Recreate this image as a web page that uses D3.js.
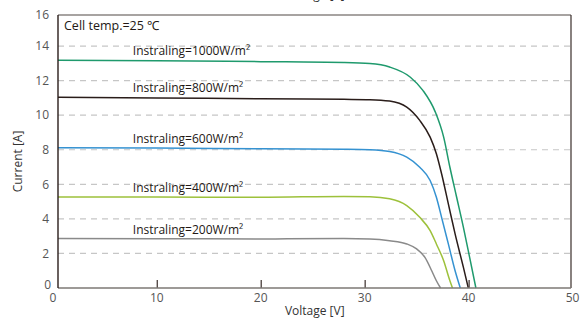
<!DOCTYPE html>
<html>
<head>
<meta charset="utf-8">
<script src="https://cdn.jsdelivr.net/npm/d3@7"></script>
<style>
  body { margin: 0; background: #fff; }
  svg { display: block; font-family: "Open Sans", "Lato", sans-serif; }
</style>
</head>
<body>
<svg width="581" height="318"></svg>
<script>
// I-V curves, [voltage V, current A]
var curve1000 = [[0.5,13.18],[10,13.15],[20,13.1],[28,13.05],[30.5,12.99],[32.4,12.79],[34.4,12.2],[35.6,11.44],[36.8,10.18],[37.6,8.73],[38.2,6.99],[38.85,5.25],[39.5,3.51],[40.1,1.77],[40.7,0]];
var curve800  = [[0.5,11.04],[10,11.0],[20,10.95],[28,10.92],[30.5,10.9],[32.4,10.82],[34.05,10.47],[35.3,9.7],[36.3,8.73],[36.9,7.77],[37.4,6.61],[38.05,4.87],[38.7,3.13],[39.5,1.19],[39.97,0]];
var curve600  = [[0.5,8.12],[10,8.1],[20,8.06],[28,8.03],[30.5,8.0],[32.4,7.9],[34.05,7.57],[35.3,6.99],[36.3,6.22],[36.9,5.25],[37.4,4.09],[38.05,2.55],[38.7,1.0],[39.2,0]];
var curve400  = [[0.5,5.27],[10,5.26],[20,5.25],[28,5.3],[30.5,5.28],[32.4,5.16],[34.05,4.77],[35.3,4.09],[36.3,3.32],[36.9,2.55],[37.6,1.58],[38.2,0.42],[38.45,0]];
var curve200  = [[0.5,2.86],[10,2.85],[20,2.84],[28,2.86],[30.5,2.84],[32.4,2.74],[34.05,2.55],[35.0,2.26],[35.8,1.77],[36.45,1.0],[36.9,0.42],[37.3,0]];

var seriesLabels = ["Instraling=1000W/m²", "Instraling=800W/m²", "Instraling=600W/m²", "Instraling=400W/m²", "Instraling=200W/m²"];
var seriesColors = ["#1f9a6d", "#2a1d1a", "#3592d1", "#9dc13b", "#8a8a8a"];
var seriesData   = [curve1000, curve800, curve600, curve400, curve200];

var xTicks = [10, 20, 30, 40, 50];
var yTicks = [2, 4, 6, 8, 10, 12, 14];
var yTickLabels = [0, 2, 4, 6, 8, 10, 12, 14, 16];

var svg = d3.select("svg"),
    margin = {top: 15, right: 10, bottom: 30, left: 58},
    width  = +svg.attr("width") - margin.left - margin.right,
    height = +svg.attr("height") - margin.top - margin.bottom;

var x = d3.scaleLinear().domain([0.5, 49.85]).range([0, width]);
var y = d3.scaleLinear().domain([0, 15.8]).range([height, 0]);

var g = svg.append("g")
  .attr("transform", "translate(" + margin.left + "," + margin.top + ")");

// cropped label from the chart above
svg.append("text")
  .attr("x", margin.left + x(25.2))
  .attr("y", -1)
  .attr("text-anchor", "middle")
  .attr("font-size", 12)
  .attr("fill", "#333")
  .text("Voltage [V]");

// grid
g.selectAll(".grid")
  .data(yTicks)
  .enter().append("line")
  .attr("x1", 0).attr("x2", width)
  .attr("y1", function(d) { return y(d); })
  .attr("y2", function(d) { return y(d); })
  .attr("stroke", "#c6c6c6")
  .attr("stroke-width", 1.2)
  .attr("stroke-dasharray", "6,5");

// frame
g.append("line").attr("x1", 0).attr("x2", width).attr("y1", 0).attr("y2", 0)
  .attr("stroke", "#8a8582").attr("stroke-width", 1.6);
g.append("line").attr("x1", width).attr("x2", width).attr("y1", 0).attr("y2", height)
  .attr("stroke", "#3a2e2b").attr("stroke-width", 1.2);

// curves
var line = d3.line()
  .x(function(d) { return x(d[0]); })
  .y(function(d) { return y(d[1]); })
  .curve(d3.curveMonotoneX);

seriesData.forEach(function(s, i) {
  g.append("path")
    .datum(s)
    .attr("fill", "none")
    .attr("stroke", seriesColors[i])
    .attr("stroke-width", 1.5)
    .attr("d", line);

  g.append("text")
    .attr("x", x(7.7))
    .attr("y", y(s[0][1]) - 5)
    .attr("font-size", 12)
    .attr("fill", "#231815")
    .text(seriesLabels[i]);
});

// axes
var xAxis = d3.axisTop(x).tickValues(xTicks.slice(0, 4)).tickSize(8).tickFormat("");
g.append("g")
  .attr("transform", "translate(0," + height + ")")
  .call(xAxis)
  .call(function(a) {
    a.select(".domain").remove();
    a.selectAll("line").attr("stroke", "#3a2e2b").attr("stroke-width", 1.2);
  });

g.append("line").attr("x1", 0).attr("x2", width).attr("y1", height).attr("y2", height)
  .attr("stroke", "#7d7874").attr("stroke-width", 1.6);
g.append("line").attr("x1", 0).attr("x2", 0).attr("y1", 0).attr("y2", height)
  .attr("stroke", "#2a1d1a").attr("stroke-width", 1.4);

g.selectAll(".xlabel")
  .data([0].concat(xTicks))
  .enter().append("text")
  .attr("x", function(d) { return x(d); })
  .attr("y", height + 14)
  .attr("text-anchor", "middle")
  .attr("font-size", 12)
  .attr("fill", "#555")
  .text(function(d) { return d; });

g.selectAll(".ylabel")
  .data(yTickLabels)
  .enter().append("text")
  .attr("x", function(d) { return d === 0 ? -7 : -9; })
  .attr("y", function(d) { return d === 16 ? 0 : y(d); })
  .attr("dy", function(d) { return d === 0 ? "0.1em" : "0.35em"; })
  .attr("text-anchor", "end")
  .attr("font-size", 12)
  .attr("fill", "#555")
  .text(function(d) { return d; });

// titles
svg.append("text")
  .attr("x", margin.left + x(25.2))
  .attr("y", 315)
  .attr("text-anchor", "middle")
  .attr("font-size", 12)
  .attr("fill", "#333")
  .text("Voltage [V]");

svg.append("text")
  .attr("transform", "translate(22," + (margin.top + height / 2 + 10) + ") rotate(-90)")
  .attr("text-anchor", "middle")
  .attr("font-size", 12)
  .attr("fill", "#333")
  .text("Current [A]");

g.append("text")
  .attr("x", 6)
  .attr("y", 15)
  .attr("font-size", 12.5)
  .attr("fill", "#231815")
  .text("Cell temp.=25 \u2103");
</script>
</body>
</html>
